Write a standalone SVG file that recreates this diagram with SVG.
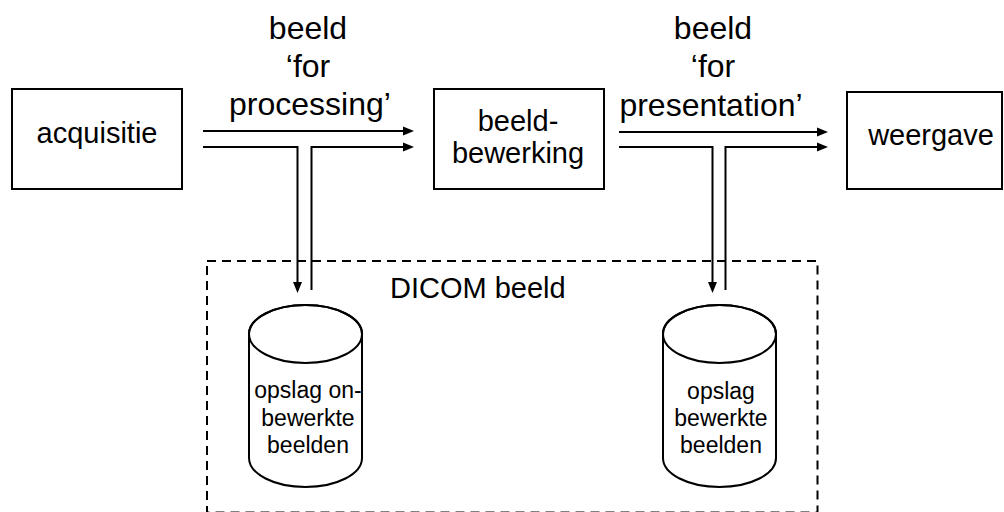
<svg xmlns="http://www.w3.org/2000/svg" width="1004" height="512" viewBox="0 0 1004 512">
<style>
.box{fill:#fff;stroke:#000;stroke-width:2}
.cyl{fill:#fff;stroke:#000;stroke-width:2}
.t{font-family:"Liberation Sans",Arial,sans-serif;fill:#000}
.c{stroke:#000;stroke-width:2;fill:none;stroke-linejoin:miter}
</style>
<defs>
<marker id="ah" markerWidth="12" markerHeight="10" refX="5" refY="5" orient="auto" markerUnits="userSpaceOnUse">
<path d="M0,0.5 L11,5 L0,9.5 z" fill="#000"/>
</marker>
</defs>
<rect width="1004" height="512" fill="#fff"/>
<g id="dicom-group">
<rect x="207" y="261" width="610.5" height="251.5" fill="none" stroke="#000" stroke-width="2" stroke-dasharray="9 6"/>
<text class="t" x="390" y="298" font-size="29">DICOM beeld</text>
</g>
<g id="acquisitie">
<rect class="box" x="12" y="89" width="170" height="100"/>
<text class="t" x="97" y="143" font-size="29" text-anchor="middle">acquisitie</text>
</g>
<g id="beeldbewerking">
<rect class="box" x="434" y="89" width="170" height="100"/>
<text class="t" x="518" y="131" font-size="29" text-anchor="middle">beeld-</text>
<text class="t" x="518" y="163" font-size="29" text-anchor="middle">bewerking</text>
</g>
<g id="weergave">
<rect class="box" x="847" y="92" width="155" height="97"/>
<text class="t" x="931" y="145" font-size="29" text-anchor="middle">weergave</text>
</g>
<g id="opslag-onbewerkt">
<path class="cyl" d="M249,334 V458 A56.5,29 0 0 0 362,458 V334 A56.5,29 0 0 0 249,334 Z"/>
<ellipse cx="305.5" cy="334" rx="56.5" ry="29" fill="none" stroke="#000" stroke-width="2"/>
<text class="t" x="308" y="398" font-size="23" text-anchor="middle">opslag on-</text>
<text class="t" x="308" y="426" font-size="23" text-anchor="middle">bewerkte</text>
<text class="t" x="308" y="453" font-size="23" text-anchor="middle">beelden</text>
</g>
<g id="opslag-bewerkt">
<path class="cyl" d="M663,334 V458 A56.5,29 0 0 0 776,458 V334 A56.5,29 0 0 0 663,334 Z"/>
<ellipse cx="719.5" cy="334" rx="56.5" ry="29" fill="none" stroke="#000" stroke-width="2"/>
<text class="t" x="721" y="399" font-size="23" text-anchor="middle">opslag</text>
<text class="t" x="721" y="426" font-size="23" text-anchor="middle">bewerkte</text>
<text class="t" x="721" y="453" font-size="23" text-anchor="middle">beelden</text>
</g>
<g id="connectors">
<path class="c" d="M203,131 H408" marker-end="url(#ah)"/>
<path class="c" d="M203,147 H297.5 V287" marker-end="url(#ah)"/>
<path class="c" d="M311.5,290 V147 H408" marker-end="url(#ah)"/>
<path class="c" d="M619,132 H822" marker-end="url(#ah)"/>
<path class="c" d="M619,147 H712.5 V287" marker-end="url(#ah)"/>
<path class="c" d="M725.5,290 V147 H822" marker-end="url(#ah)"/>
<text class="t" x="308" y="39" font-size="32" text-anchor="middle">beeld</text>
<text class="t" x="308" y="77" font-size="32" text-anchor="middle">‘for</text>
<text class="t" x="310" y="115" font-size="32" text-anchor="middle">processing’</text>
<text class="t" x="713" y="39" font-size="32" text-anchor="middle">beeld</text>
<text class="t" x="713" y="77" font-size="32" text-anchor="middle">‘for</text>
<text class="t" x="711" y="116" font-size="32" text-anchor="middle">presentation’</text>
</g>
</svg>
